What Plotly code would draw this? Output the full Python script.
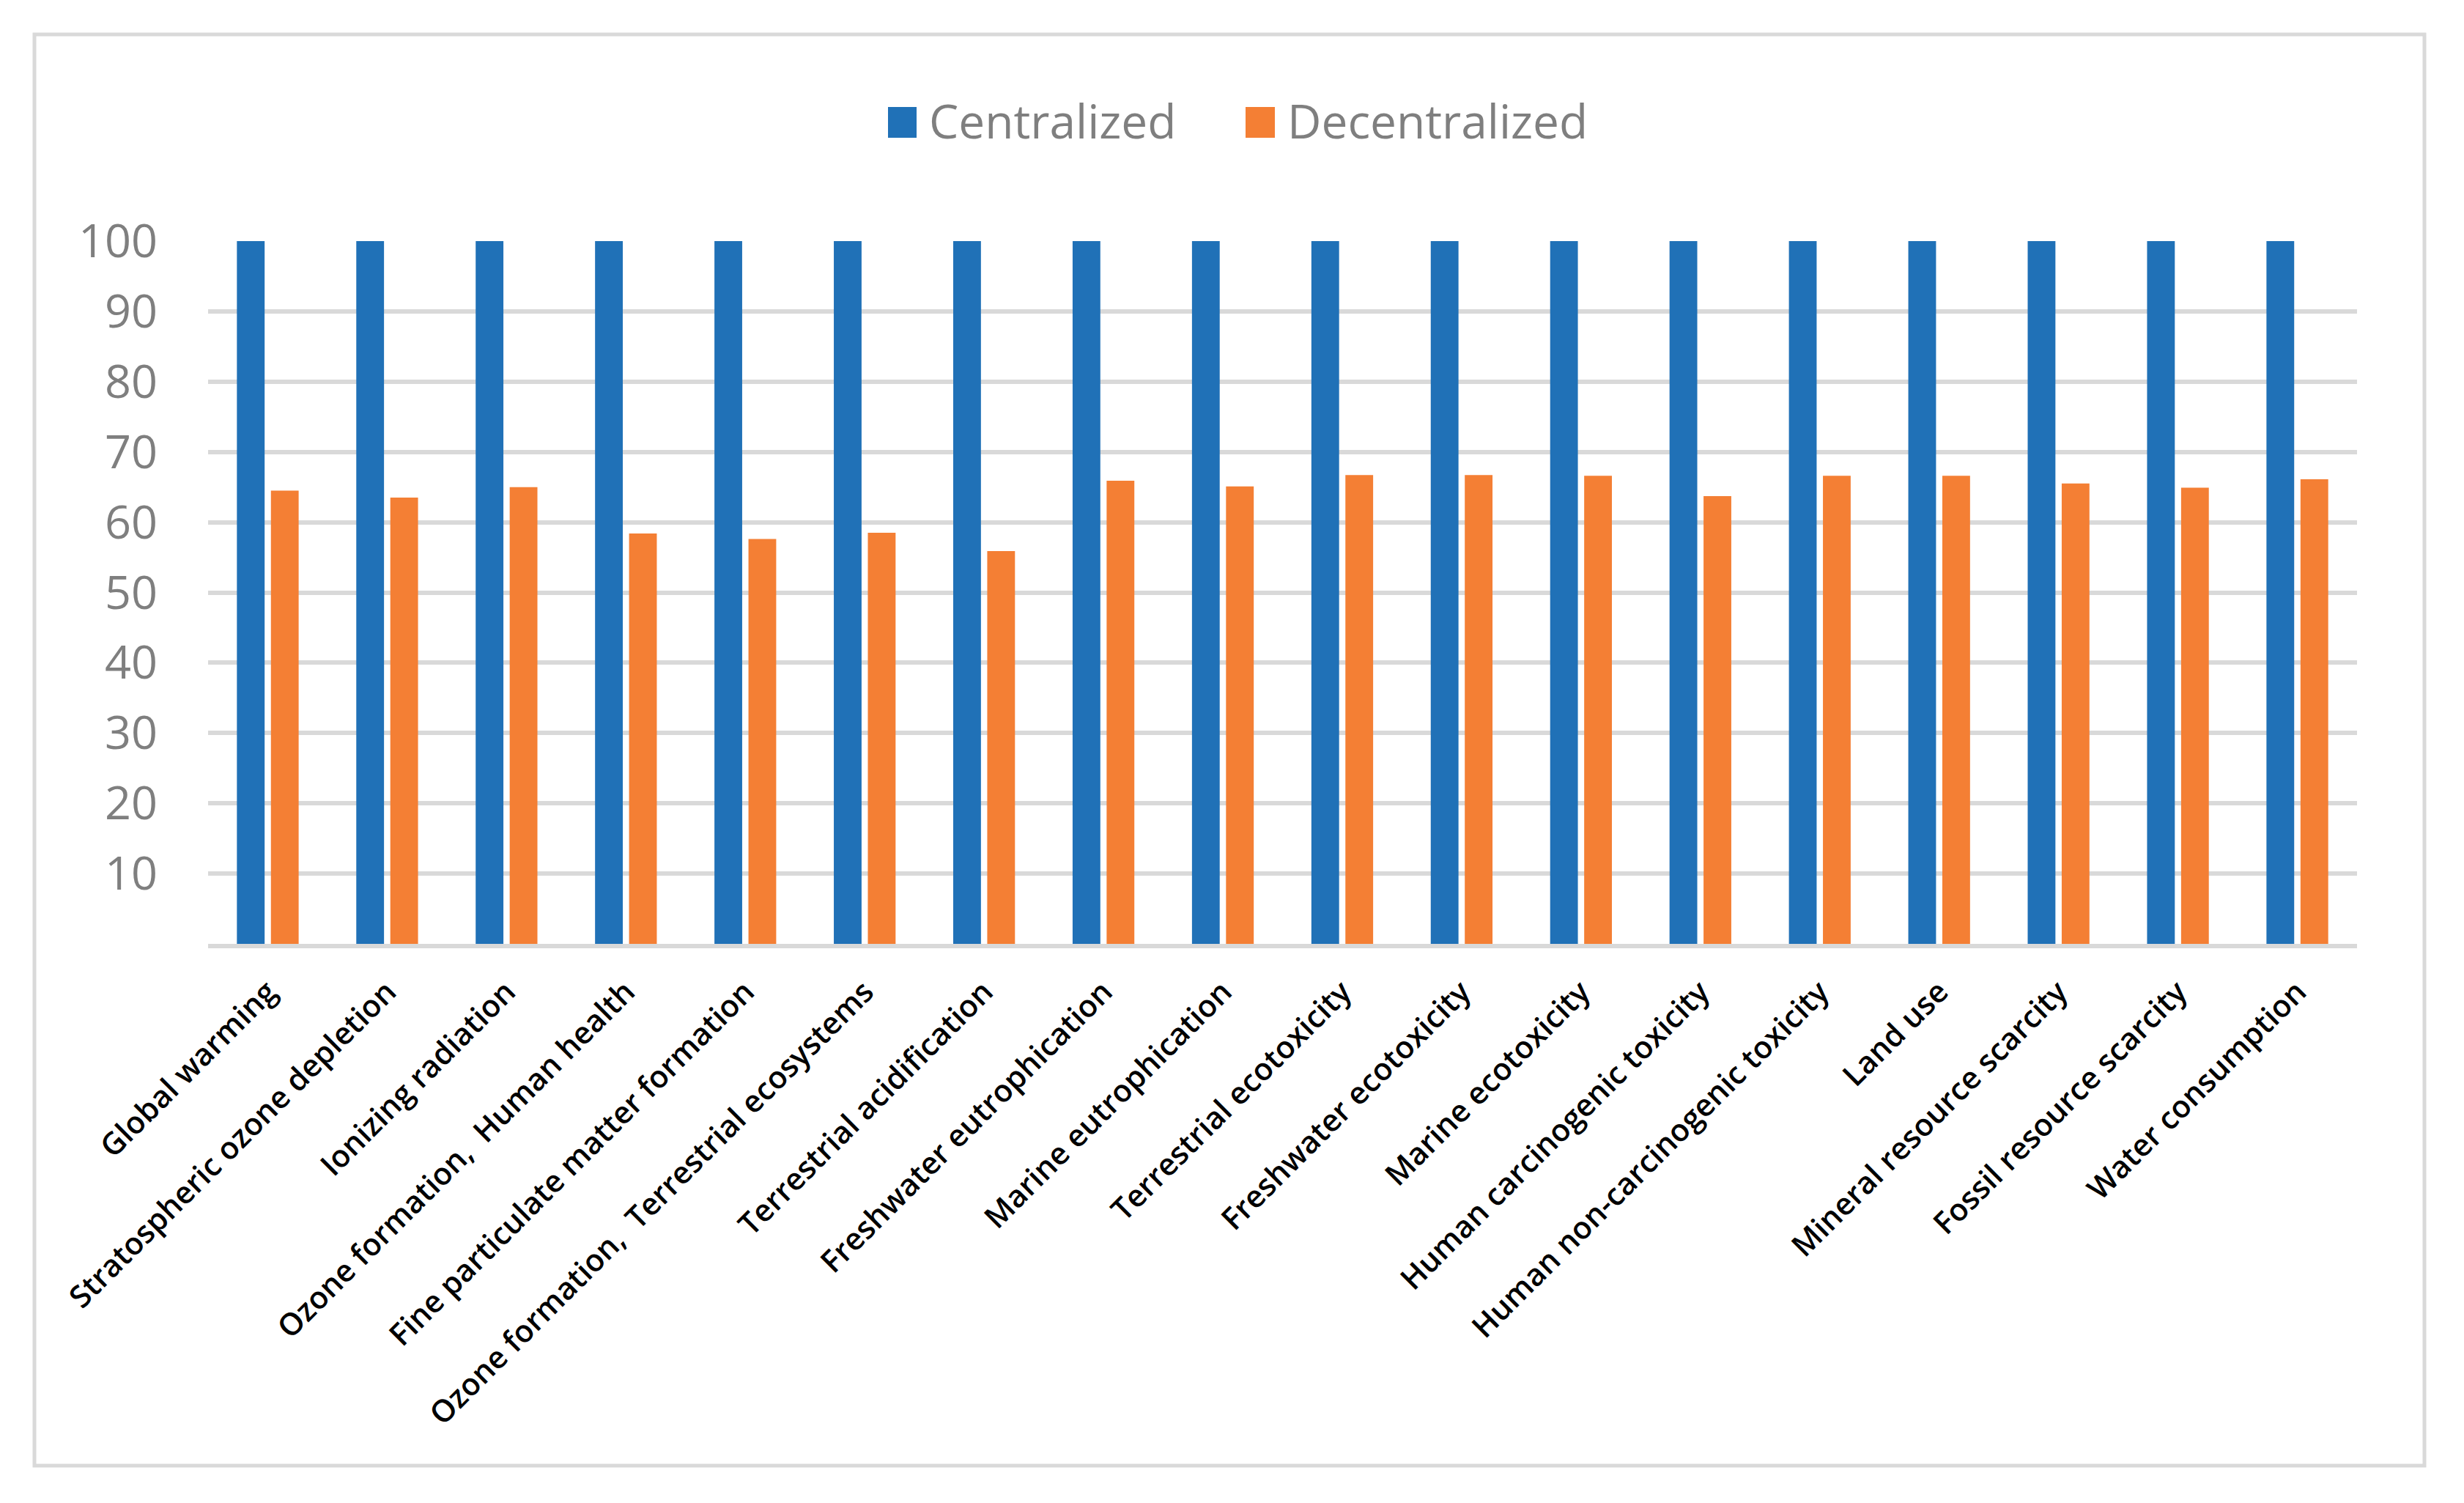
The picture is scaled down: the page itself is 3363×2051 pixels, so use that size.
import plotly.graph_objects as go

categories = [
    "Global warming", "Stratospheric ozone depletion", "Ionizing radiation",
    "Ozone formation,\u00a0 Human health", "Fine particulate matter formation",
    "Ozone formation,\u00a0 Terrestrial ecosystems", "Terrestrial acidification",
    "Freshwater eutrophication", "Marine eutrophication", "Terrestrial ecotoxicity",
    "Freshwater ecotoxicity", "Marine ecotoxicity", "Human carcinogenic toxicity",
    "Human non-carcinogenic toxicity", "Land use", "Mineral resource scarcity",
    "Fossil resource scarcity", "Water consumption",
]
series_names = ["Centralized", "Decentralized"]
centralized = [100] * 18
decentralized = [64.5, 63.5, 65.0, 58.4, 57.6, 58.5, 55.9, 65.9, 65.1,
                 66.7, 66.7, 66.6, 63.7, 66.6, 66.6, 65.5, 64.9, 66.1]
y_ticks = [10, 20, 30, 40, 50, 60, 70, 80, 90, 100]

BLUE = "#2071B7"
ORANGE = "#F47F34"
GRID = "#D9D9D9"
GRAY = "#7F7F7F"
FONT = "Open Sans"

W, H = 3363, 2051
L, R, T, B = 284, 3217, 329, 1288


def px(x):
    return (x - L) / (R - L)


def py(y):
    return (B - y) / (B - T)


fig = go.Figure()
fig.add_trace(go.Bar(x=categories, y=centralized, name=series_names[0],
                     marker=dict(color=BLUE, line=dict(width=0)), showlegend=False))
fig.add_trace(go.Bar(x=categories, y=decentralized, name=series_names[1],
                     marker=dict(color=ORANGE, line=dict(width=0)), showlegend=False))

shapes = [
    dict(type="rect", xref="paper", yref="paper",
         x0=px(47), x1=px(3309), y0=py(2000), y1=py(47),
         line=dict(color=GRID, width=5), fillcolor="rgba(0,0,0,0)", layer="below"),
    dict(type="rect", xref="paper", yref="paper",
         x0=px(1212), x1=px(1251), y0=py(188), y1=py(146),
         line=dict(width=0), fillcolor=BLUE),
    dict(type="rect", xref="paper", yref="paper",
         x0=px(1700), x1=px(1740), y0=py(188), y1=py(146),
         line=dict(width=0), fillcolor=ORANGE),
]
annotations = [
    dict(xref="paper", yref="paper", x=px(1266), y=py(164), text=series_names[0],
         showarrow=False, xanchor="left", yanchor="middle",
         font=dict(family=FONT, size=64, color=GRAY)),
    dict(xref="paper", yref="paper", x=px(1755), y=py(164), text=series_names[1],
         showarrow=False, xanchor="left", yanchor="middle",
         font=dict(family=FONT, size=64, color=GRAY)),
]

fig.update_layout(
    width=W, height=H,
    margin=dict(l=L, r=W - R, t=T, b=H - B, pad=0),
    paper_bgcolor="white", plot_bgcolor="white",
    barmode="group", bargap=0.43, bargroupgap=0.185,
    showlegend=False,
    shapes=shapes, annotations=annotations,
    font=dict(family=FONT),
)
fig.update_xaxes(
    tickangle=-45, tickfont=dict(family=FONT, size=42, color="black", weight=600),
    showgrid=False, showline=True, linecolor=GRID, linewidth=6,
    ticks="", ticklabelstandoff=18, automargin=False,
)
fig.update_yaxes(
    range=[0, 100], tickvals=y_ticks, ticktext=[str(v) for v in y_ticks],
    tickfont=dict(family=FONT, size=63, color=GRAY),
    showgrid=True, gridcolor=GRID, gridwidth=6, zeroline=False,
    showline=False, ticks="", ticklabelstandoff=68, automargin=False,
)

fig.write_html("out.html", config={"displayModeBar": False},
               post_script="document.body.style.margin='0';document.body.style.overflow='hidden';")
